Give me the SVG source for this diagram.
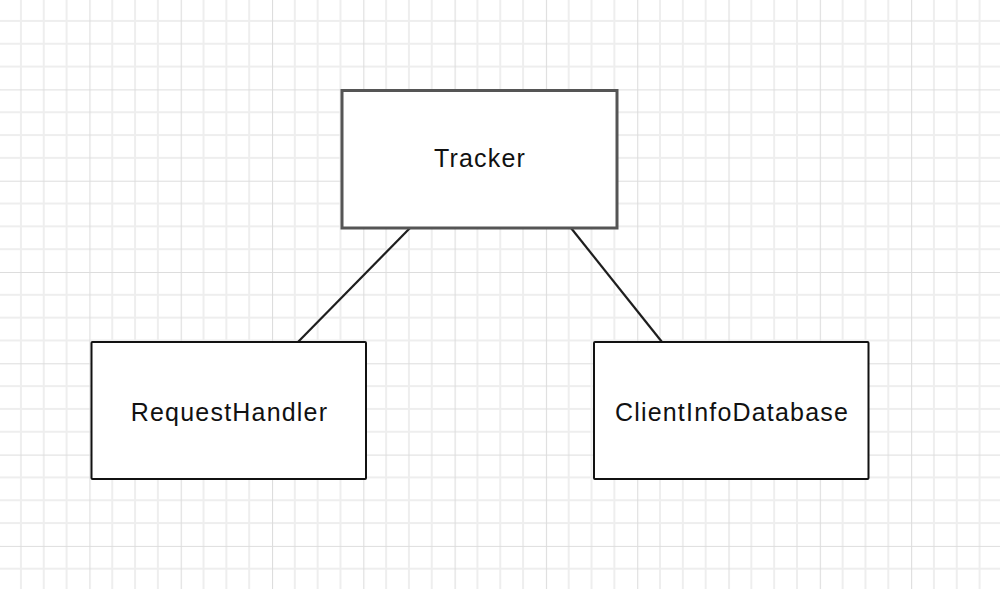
<svg xmlns="http://www.w3.org/2000/svg" width="1000" height="589" viewBox="0 0 1000 589">
  <style>
    .node rect { fill: #ffffff; }
    .box { stroke: #111111; stroke-width: 2; }
    .box-sel { stroke: #555555; stroke-width: 3; }
    .label { font-family: "Liberation Sans", Arial, sans-serif; font-size: 25px; fill: #111111; text-anchor: middle; letter-spacing: 1.2px; }
    .conn { stroke: #1e1e1e; stroke-width: 2.2; fill: none; }
  </style>
  <defs>
    <pattern id="grid" patternUnits="userSpaceOnUse" x="89.4" y="89.4" width="91.3" height="91.3">
      <path d="M22.825 0V91.3M45.65 0V91.3M68.475 0V91.3M0 22.825H91.3M0 45.65H91.3M0 68.475H91.3" stroke="#eeeeee" stroke-width="2" fill="none"/>
      <path d="M0 0V91.3M0 0H91.3" stroke="#dddddd" stroke-width="2.2" fill="none"/>
    </pattern>
  </defs>
  <rect x="0" y="0" width="1000" height="589" fill="#ffffff"/>
  <rect x="0" y="0" width="1000" height="589" fill="url(#grid)"/>

  <g id="connectors">
    <line class="conn" x1="410" y1="228" x2="298" y2="342"/>
    <line class="conn" x1="571" y1="228" x2="662" y2="342"/>
  </g>

  <g id="tracker" class="node">
    <rect class="box-sel" x="342" y="90.5" width="275" height="137.5"/>
    <text class="label" x="480" y="167">Tracker</text>
  </g>

  <g id="requesthandler" class="node">
    <rect class="box" x="91.5" y="342" width="274.5" height="137" rx="1"/>
    <text class="label" x="229.5" y="420.5">RequestHandler</text>
  </g>

  <g id="clientinfodatabase" class="node">
    <rect class="box" x="594" y="342" width="274.5" height="137" rx="1"/>
    <text class="label" x="732" y="420.5">ClientInfoDatabase</text>
  </g>
</svg>
